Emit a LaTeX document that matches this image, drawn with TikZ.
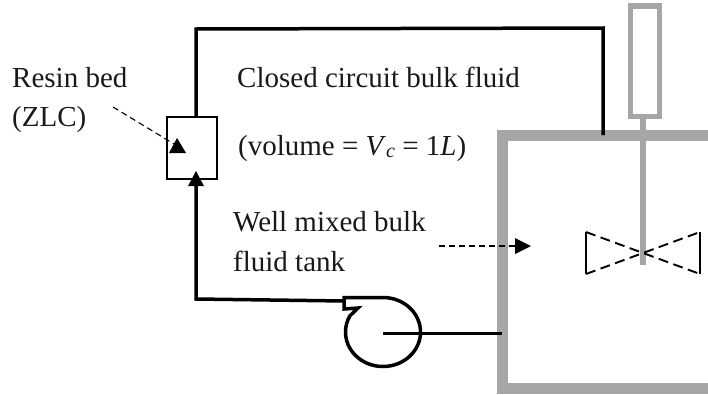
\documentclass[tikz,border=0pt]{standalone}
\usepackage{fontspec}
\setmainfont{Liberation Serif}
\definecolor{tankgray}{HTML}{A6A6A6}
\tikzset{
  lbl/.style={anchor=base west,inner sep=0pt,font=\fontsize{29}{34}\selectfont,text=black!90},
  pipe/.style={draw=black,line width=3.5pt,line join=miter},
  gray part/.style={draw=tankgray,line width=5.5pt},
  leader/.style={draw=black,line width=1.1pt,dash pattern=on 6pt off 4pt},
  bladeedge/.style={draw=black,line width=1.9pt,dash pattern=on 10pt off 5.5pt},
  tip/.style={fill=black,draw=none},
  bedbox/.style={draw=black,line width=1.8pt,fill=white,minimum width=50pt,minimum height=62pt,inner sep=0pt}
}
\begin{document}
\begin{tikzpicture}[x=1pt,y=-1pt]
\useasboundingbox (0,0) rectangle (708,394);
% tank and stirrer
\draw[draw=tankgray,line width=11pt] (708,135.5) -- (502.5,135.5) -- (502.5,388) -- (708,388);
\draw[gray part] (630.5,6) rectangle (659.5,116.5);
\coordinate (shafttop) at (642.5,116);
\coordinate (shaftend) at (642.5,265);
\draw[draw=tankgray,line width=6pt] (shafttop) -- (shaftend);
% impeller
\coordinate (bl1) at (586,232);
\coordinate (bl2) at (586,274);
\coordinate (br1) at (700,232);
\coordinate (br2) at (700,274);
\draw[black,line width=1.9pt] (bl1) -- (bl2);
\draw[black,line width=1.9pt] (br1) -- (br2);
\draw[bladeedge] (bl1) -- (br2);
\draw[bladeedge] (bl2) -- (br1);
% resin bed
\node[bedbox] (bed) at (192,148) {};
\coordinate (bedtop) at (196,117);
\coordinate (corner1) at (196,29);
\coordinate (corner2) at (603,28);
\coordinate (tanktop) at (603,135);
\draw[pipe] (bedtop) -- (corner1) -- (corner2) -- (tanktop);
% return line and pump
\coordinate (corner3) at (196,299);
\coordinate (pumpin) at (345,301);
\coordinate (bedin) at (196,180);
\draw[pipe] (bedin) -- (corner3) -- (pumpin);
\fill[tip] (196,171) -- (188,186) -- (204,186) -- cycle;
\draw[draw=black,line width=3.5pt,line join=miter]
  (358,308) -- (344,309) -- (344,297.5) -- (383,297.5)
  arc[start angle=-90,end angle=208,x radius=37.5,y radius=34.5] -- cycle;
\coordinate (imp) at (383,333);
\coordinate (tankwall) at (502,333);
\draw[draw=black,line width=3pt] (imp) -- (tankwall);
% labels
\node[lbl] (resin1) at (12,87) {Resin bed};
\node[lbl] (resin2) at (12,126) {(ZLC)};
\node[lbl] (closed) at (237,87) {Closed circuit bulk fluid};
\node[lbl] (volume) at (238,155) {(volume = \textit{V}\raisebox{-0.2ex}{\fontsize{20}{20}\selectfont\textit{c}} = 1\textit{L})};
\node[lbl] (well1) at (233,231) {Well mixed bulk};
\node[lbl] (well2) at (233,271) {fluid tank};
% leaders
\coordinate (lead1a) at (113,107);
\coordinate (lead1b) at (174,144);
\draw[leader] (lead1a) -- (lead1b);
\fill[tip] (177,138) -- (169,153) -- (186,153) -- cycle;
\coordinate (lead2a) at (439,246);
\coordinate (lead2b) at (517,246);
\draw[leader] (lead2a) -- (lead2b);
\fill[tip] (531,246) -- (515,238) -- (515,254) -- cycle;
\end{tikzpicture}
\end{document}
